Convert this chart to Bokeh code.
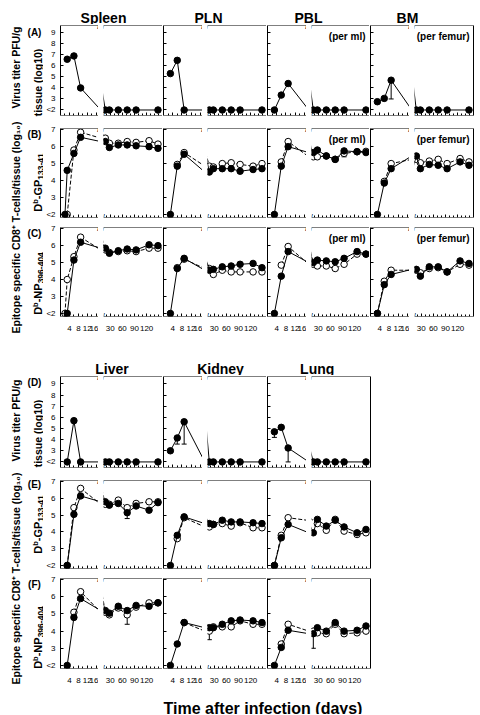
import math
from bokeh.plotting import figure
from bokeh.layouts import row, column
from bokeh.models import (Range1d, LinearAxis, FixedTicker, Label, ColumnDataSource,
                          Whisker, TeeHead)
from bokeh.core.properties import value
from bokeh.embed import file_html
from bokeh.resources import INLINE

FONT_NAME = "Liberation Sans"
FONT = value(FONT_NAME)

# ---------------- data ----------------
EARLY_DAYS = [2, 3, 6, 9]
LATE_DAYS = [18, 28, 50, 72, 94, 126, 148]
DAYS = EARLY_DAYS + LATE_DAYS
EARLY_TICKS = [4, 8, 12, 16]
EARLY_MINOR = [2, 6, 10, 14]
LATE_TICKS = [30, 60, 90, 120]
LATE_MINOR = [20, 40, 50, 70, 80, 100, 110, 130, 140, 150]
VIRUS_TICKS = [2, 3, 4, 5, 6, 7, 8, 9]
TCELL_TICKS = [2, 3, 4, 5, 6, 7]
TOP_TISSUES = ["Spleen", "PLN", "PBL", "BM"]
BOTTOM_TISSUES = ["Liver", "Kidney", "Lung"]

# virus titer (log10 PFU); 2 means "<2"
spleen_virus = [None, 6.6, 6.9, 4.0, 2, 2, 2, 2, 2, None, 2]
pln_virus = [None, 5.3, 6.5, 2.0, 2, 2, 2, 2, 2, None, 2]
pbl_virus = [None, 2.0, 3.35, 4.4, 2, 2, 2, 2, 2, None, 2]
bm_virus = [None, 2.75, 3.05, 4.7, 2, 2, 2, 2, 2, None, 2]
liver_virus = [None, 2.0, 5.7, 2.0, 2, 2, 2, 2, 2, None, 2]
kidney_virus = [None, 3.0, 4.15, 5.6, 2, 2, 2, 2, 2, None, 2]
lung_virus = [None, 4.7, 5.1, 3.25, 2, 2, 2, 2, 2, None, 2]

# Db-GP33 specific CD8 T cells (log10); filled and open symbols
spleen_gp_f = [2.0, 4.6, 5.6, 6.55, 6.3, 5.95, 6.1, 6.1, 6.05, 6.0, 5.9]
spleen_gp_o = [None, 2.0, 5.8, 6.85, 6.5, 6.2, 6.2, 6.3, 6.25, 6.35, 6.15]
pln_gp_f = [None, 2.0, 4.85, 5.55, 4.5, 4.7, 4.7, 4.7, 4.55, 4.65, 4.7]
pln_gp_o = [None, None, 4.95, 5.65, 4.85, 4.8, 5.0, 5.05, 4.95, 4.85, 5.0]
pbl_gp_f = [None, 2.0, 4.85, 6.0, 5.65, 5.8, 5.45, 5.25, 5.75, 5.7, 5.65]
pbl_gp_o = [None, None, 5.1, 6.3, 5.4, 5.4, 5.45, 5.25, 5.6, 5.7, 5.72]
bm_gp_f = [None, 2.0, 3.85, 4.7, 5.45, 4.7, 4.95, 4.9, 4.7, 5.1, 4.9]
bm_gp_o = [None, None, 3.95, 5.0, 5.25, 5.05, 5.15, 5.25, 5.0, 5.3, 5.1]
liver_gp_f = [None, 2.0, 5.05, 6.15, 5.8, 5.6, 5.7, 5.15, 5.55, 5.3, 5.75]
liver_gp_o = [None, 2.0, 5.45, 6.6, 5.65, 5.65, 5.9, 5.45, 5.7, 5.8, 5.8]
kidney_gp_f = [None, 2.0, 3.8, 4.9, 4.5, 4.45, 4.7, 4.6, 4.6, 4.55, 4.5]
kidney_gp_o = [None, None, 3.6, 4.85, 4.3, 4.45, 4.5, 4.35, 4.55, 4.25, 4.25]
lung_gp_f = [None, 2.0, 3.65, 4.45, 3.95, 4.75, 4.35, 4.7, 4.3, 3.95, 4.15]
lung_gp_o = [None, 2.0, 3.8, 4.85, None, 4.5, 4.1, 4.75, 4.05, 3.85, 3.95]

# Db-NP396 specific CD8 T cells (log10)
spleen_np_f = [None, 2.0, 5.15, 6.2, 5.85, 5.55, 5.7, 5.8, 5.75, 6.05, 6.0]
spleen_np_o = [2.0, 4.0, 5.35, 6.5, 5.75, 5.6, 5.65, 5.7, 5.65, 5.85, 5.85]
pln_np_f = [None, 2.0, 4.65, 5.25, 4.55, 4.6, 4.75, 4.8, 4.9, 4.95, 4.7]
pln_np_o = [None, None, 4.7, 5.2, 4.65, 4.3, 4.55, 4.45, 4.45, 4.45, 4.45]
pbl_np_f = [None, 2.0, 4.2, 5.65, 5.0, 5.15, 5.1, 5.05, 5.25, 5.65, 5.5]
pbl_np_o = [None, None, 4.85, 5.95, 4.9, 4.8, 4.8, 4.65, 4.9, 5.5, 5.5]
bm_np_f = [None, 2.0, 3.7, 4.3, 4.6, 4.2, 4.75, 4.75, 4.45, 5.1, 4.95]
bm_np_o = [None, 2.0, 3.9, 4.55, 4.55, 4.4, 4.65, 4.7, 4.45, 4.9, 4.85]
liver_np_f = [None, 2.0, 4.8, 5.9, 5.2, 5.05, 5.45, 5.2, 5.5, 5.45, 5.65]
liver_np_o = [None, None, 5.1, 6.3, 5.1, 4.95, 5.35, 4.95, 5.4, 5.65, 5.65]
kidney_np_f = [None, 2.0, 3.25, 4.5, 4.2, 4.2, 4.4, 4.6, 4.65, 4.6, 4.5]
kidney_np_o = [None, None, None, 4.5, 4.0, 4.25, 4.25, 4.25, 4.6, 4.4, 4.4]
lung_np_f = [None, 2.0, 3.05, 4.05, 3.85, 4.2, 4.0, 4.5, 4.0, 4.05, 4.3]
lung_np_o = [None, None, 3.25, 4.4, 4.0, 3.9, 3.85, 4.4, 3.85, 3.9, 4.0]

# error bars (lower whisker of selected points)
ERR_TISSUE = ["BM", "Kidney", "Kidney", "Lung", "Lung", "Liver", "Liver", "Kidney", "Lung", "PBL"]
ERR_ROW = ["virus", "virus", "virus", "virus", "virus", "gp", "np", "np", "np", "gp"]
ERR_FILLED = [True, True, True, True, True, True, False, False, True, False]
ERR_DAY = [9, 6, 9, 3, 9, 72, 72, 18, 18, 94]
ERR_LO = [3.0, 3.6, 3.6, 4.2, 2.0, 4.8, 4.4, 3.5, 3.0, 5.4]

SERIES = {
    ("Spleen", "virus"): (spleen_virus, None), ("PLN", "virus"): (pln_virus, None),
    ("PBL", "virus"): (pbl_virus, None), ("BM", "virus"): (bm_virus, None),
    ("Liver", "virus"): (liver_virus, None), ("Kidney", "virus"): (kidney_virus, None),
    ("Lung", "virus"): (lung_virus, None),
    ("Spleen", "gp"): (spleen_gp_f, spleen_gp_o), ("PLN", "gp"): (pln_gp_f, pln_gp_o),
    ("PBL", "gp"): (pbl_gp_f, pbl_gp_o), ("BM", "gp"): (bm_gp_f, bm_gp_o),
    ("Liver", "gp"): (liver_gp_f, liver_gp_o), ("Kidney", "gp"): (kidney_gp_f, kidney_gp_o),
    ("Lung", "gp"): (lung_gp_f, lung_gp_o),
    ("Spleen", "np"): (spleen_np_f, spleen_np_o), ("PLN", "np"): (pln_np_f, pln_np_o),
    ("PBL", "np"): (pbl_np_f, pbl_np_o), ("BM", "np"): (bm_np_f, bm_np_o),
    ("Liver", "np"): (liver_np_f, liver_np_o), ("Kidney", "np"): (kidney_np_f, kidney_np_o),
    ("Lung", "np"): (lung_np_f, lung_np_o),
}
NOTES = {"PBL": "(per ml)", "BM": "(per femur)"}

# ---------------- geometry / style ----------------
VIRUS_RANGE = (1.5, 9.66)
TCELL_RANGE = (1.82, 7.07)
EARLY_RANGE = (0, 17)
LATE_START = 13.5
LATE_PX_PER_DAY = 0.405
LATE_BL = 5
# (early width, early left border, late width, late right border)
TOP_COLS = [(55, 16, 64, 0), (40, 1, 64, 0), (40, 1, 63, 0), (40, 1, 65, 1)]
BOT_COLS = [(55, 16, 64, 0), (40, 1, 64, 0), (40, 1, 65, 1)]
# (row key, height, top border, bottom border, x labels)
TOP_ROWS = [("virus", 100, 1, 9, False), ("gp", 99, 4, 6, False), ("np", 115, 4, 22, True)]
BOT_ROWS = [("virus", 101, 1, 9, False), ("gp", 98, 4, 6, False), ("np", 116, 4, 22, True)]

# Arial/Liberation Sans Bold advance widths (em) for composed rotated labels
ADV = {"D": 0.722, "N": 0.722, "G": 0.778, "P": 0.667, "b": 0.611, "-": 0.333}


def text_width(t, size):
    return sum(ADV.get(c, 0.556) for c in t) * size


def make_axis(ticks, minor, show_labels, standoff, overrides=None, loc=None,
              show_line=True):
    a = LinearAxis(ticker=FixedTicker(ticks=ticks, minor_ticks=minor))
    if loc is not None:
        a.fixed_location = loc
    a.axis_line_color = "black" if show_line else None
    a.axis_line_width = 1
    a.major_tick_line_color = "black" if show_line else None
    a.minor_tick_line_color = "black" if show_line else None
    a.major_tick_in = 3
    a.major_tick_out = 0
    a.minor_tick_in = 2
    a.minor_tick_out = 0
    a.axis_label = None
    a.major_label_text_font = FONT_NAME
    if show_labels:
        a.major_label_text_font_size = "8px"
        a.major_label_text_color = "black"
        a.major_label_standoff = standoff
        if overrides:
            a.major_label_overrides = overrides
    else:
        a.major_label_text_font_size = "1px"
        a.major_label_text_color = None
        a.major_label_standoff = 0
    return a


def draw_series(p, vals, filled, lo, hi):
    xs = [d for d, v in zip(DAYS, vals) if v is not None]
    ys = [v for v in vals if v is not None]
    p.line(xs, ys, line_color="black", line_width=1,
           line_dash="solid" if filled else "4 2")
    mx = [x for x in xs if lo <= x <= hi]
    my = [y for x, y in zip(xs, ys) if lo <= x <= hi]
    p.scatter(mx, my, marker="circle", size=6.5, line_color="black",
              line_width=1, fill_color="black" if filled else "white")


def make_half(tissue, rowkey, early, w, bl, br, h, bt, bb, first, xlabels):
    yr = VIRUS_RANGE if rowkey == "virus" else TCELL_RANGE
    yt = VIRUS_TICKS if rowkey == "virus" else TCELL_TICKS
    fw = w - bl - br
    if early:
        xr = Range1d(*EARLY_RANGE)
    else:
        xr = Range1d(LATE_START, LATE_START + fw / LATE_PX_PER_DAY)
    p = figure(width=w, height=h, x_range=xr, y_range=Range1d(*yr), title=None,
               x_axis_type=None, y_axis_type=None, output_backend="svg",
               toolbar_location=None, min_border_left=bl, min_border_right=br,
               min_border_top=bt, min_border_bottom=bb)
    p.outline_line_color = None
    p.background_fill_color = "white"
    p.border_fill_color = "white"

    xt = EARLY_TICKS if early else LATE_TICKS
    xm = EARLY_MINOR if early else LATE_MINOR
    if xlabels:
        p.add_layout(make_axis(xt, [], True, 9, show_line=False), "below")
    p.add_layout(make_axis(xt, xm, False, 0, loc=yr[0]), "below")
    p.add_layout(make_axis([], [], False, 0, loc=yr[1]), "above")
    if early:
        p.add_layout(make_axis(yt, [], first, 5, {2: "<2"}), "left")
    if br:
        p.add_layout(make_axis([], [], False, 0), "right")

    xb = xr.end if early else xr.start
    for yb in yr:
        p.add_layout(Label(x=xb, y=yb, text="/", text_font=FONT_NAME, text_font_size="9px",
                           text_align="center", text_baseline="middle", text_color="black"))

    filled, opened = SERIES[(tissue, rowkey)]
    if opened is not None:
        draw_series(p, opened, False, xr.start, xr.end)
    draw_series(p, filled, True, xr.start, xr.end)

    for t, rk, fl, d, lo in zip(ERR_TISSUE, ERR_ROW, ERR_FILLED, ERR_DAY, ERR_LO):
        if t == tissue and rk == rowkey and xr.start <= d <= xr.end:
            vals = filled if fl else opened
            v = vals[DAYS.index(d)]
            src = ColumnDataSource(dict(base=[d], lower=[lo], upper=[v]))
            p.add_layout(Whisker(base="base", lower="lower", upper="upper", source=src,
                                 dimension="height", line_color="black", line_width=1,
                                 upper_head=None,
                                 lower_head=TeeHead(size=5, line_color="black", line_width=1)))

    if (not early) and tissue in NOTES:
        p.text(x=[xr.end], y=[yr[1]], text=[NOTES[tissue]], text_align="right",
               text_baseline="top", x_offset=-4, y_offset=5, text_font=FONT,
               text_font_style="bold", text_font_size="10px", text_color="black")
    return p


def text_fig(w, h, items, composed=()):
    p = figure(width=w, height=h, x_range=Range1d(0, w), y_range=Range1d(0, h), title=None,
               x_axis_type=None, y_axis_type=None, output_backend="svg",
               toolbar_location=None, min_border=0)
    p.outline_line_color = None
    p.background_fill_color = "white"
    p.border_fill_color = "white"
    for x, y, t, size, rot, base in items:
        p.text(x=[x], y=[h - y], text=[t], angle=math.pi / 2 if rot else 0,
               text_align="center", text_baseline=base, text_font=FONT,
               text_font_style="bold", text_font_size=size, text_color="black")
    # rotated labels built from pieces (super/subscripts)
    for x, yc, pieces in composed:
        total = sum(text_width(t, s) for t, s, _ in pieces)
        ystart = (h - yc) - total / 2
        for t, s, dx in pieces:
            p.text(x=[x + dx], y=[ystart], text=[t], angle=math.pi / 2,
                   text_align="left", text_baseline="middle", text_font=FONT,
                   text_font_style="bold", text_font_size=f"{s}px", text_color="black")
            ystart += text_width(t, s)
    return p


def block(tissues, cols, rows):
    out = []
    for rowkey, h, bt, bb, xl in rows:
        figs = []
        for i, (tissue, (ew, ebl, lw, lbr)) in enumerate(zip(tissues, cols)):
            figs.append(make_half(tissue, rowkey, True, ew, ebl, 0, h, bt, bb, i == 0, xl))
            figs.append(make_half(tissue, rowkey, False, lw, LATE_BL, lbr, h, bt, bb, False, xl))
        out.append(row(*figs))
    return column(*out)


OUTER = "Epitope specific CD8\u207a T-cells/tissue (log\u2081\u2080)"
GP_PIECES = [("D", 11, 0), ("b", 7.5, -3), ("-GP", 11, 0), ("133-41", 8.5, 2.5)]
NP_PIECES = [("D", 11, 0), ("b", 7.5, -3), ("-NP", 11, 0), ("396-404", 8.5, 2.5)]

left_top = text_fig(43, 314, [
    (34, 7.5, "(A)", "10px", False, "middle"),
    (15, 43, "Virus titer PFU/g", "10.5px", True, "middle"),
    (37, 58, "tissue (log10)", "10.5px", True, "middle"),
    (34, 109.5, "(B)", "10px", False, "middle"),
    (34, 208.5, "(C)", "10px", False, "middle"),
    (15, 203, OUTER, "10.5px", True, "middle"),
], composed=[(37.5, 158, GP_PIECES), (37.5, 259, NP_PIECES)])
left_bot = text_fig(43, 315, [
    (34, 6.5, "(D)", "10px", False, "middle"),
    (15, 45, "Virus titer PFU/g", "10.5px", True, "middle"),
    (37, 58, "tissue (log10)", "10.5px", True, "middle"),
    (34, 109, "(E)", "10px", False, "middle"),
    (34, 209, "(F)", "10px", False, "middle"),
    (15, 203, OUTER, "10.5px", True, "middle"),
], composed=[(37.5, 149, GP_PIECES), (37.5, 262, NP_PIECES)])
header1 = text_fig(474, 24, [
    (103, 17.5, TOP_TISSUES[0], "14px", False, "alphabetic"),
    (208, 17.5, TOP_TISSUES[1], "14px", False, "alphabetic"),
    (308, 17.5, TOP_TISSUES[2], "14px", False, "alphabetic"),
    (407, 17.5, TOP_TISSUES[3], "14px", False, "alphabetic"),
])
header2 = text_fig(474, 37, [
    (111.5, 30.3, BOTTOM_TISSUES[0], "14px", False, "alphabetic"),
    (220, 30.3, BOTTOM_TISSUES[1], "14px", False, "alphabetic"),
    (316.7, 30.3, BOTTOM_TISSUES[2], "14px", False, "alphabetic"),
])
footer = text_fig(474, 24, [
    (262.5, 18, "Time after infection (days)", "16px", False, "alphabetic"),
])

layout = column(
    header1,
    row(left_top, block(TOP_TISSUES, TOP_COLS, TOP_ROWS)),
    header2,
    row(left_bot, block(BOTTOM_TISSUES, BOT_COLS, BOT_ROWS)),
    footer,
)

open("out.html", "w").write(file_html(layout, INLINE))
